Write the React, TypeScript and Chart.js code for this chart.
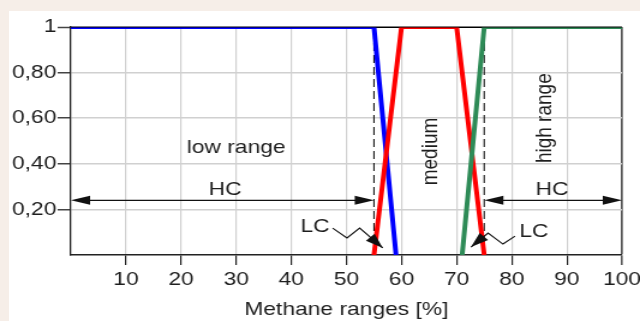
import React, { useEffect, useRef } from 'react';
import { Chart, registerables } from 'chart.js';

Chart.register(...registerables);

// ---- data ----
const lowRangeX = [0, 55, 59];
const lowRangeY = [1, 1, 0];
const mediumX = [55, 60, 70, 75];
const mediumY = [0, 1, 1, 0];
const highRangeX = [71, 75, 100];
const highRangeY = [0, 1, 1];
const boundaryX = [55, 75];

const xTickLabels = ['', '10', '20', '30', '40', '50', '60', '70', '80', '90', '100'];
const yTickLabels = ['', '0,20', '0,40', '0,60', '0,80', '1'];

// annotation texts (data coordinates)
const textLabels = [
  { text: 'low range', x: 30, y: 0.47, rot: 0 },
  { text: 'HC', x: 28, y: 0.285, rot: 0 },
  { text: 'HC', x: 87.3, y: 0.285, rot: 0 },
  { text: 'medium', x: 65.2, y: 0.454, rot: -90 },
  { text: 'high range', x: 86.1, y: 0.6, rot: -90 },
  { text: 'LC', x: 44.3, y: 0.123, rot: 0 },
  { text: 'LC', x: 84.0, y: 0.101, rot: 0 },
];
const hcArrowStart = [0, 75];
const hcArrowEnd = [55, 100];
const hcArrowY = 0.24;
const lcLeftX = [47.5, 50.1, 52.4, 56.6];
const lcLeftY = [0.118, 0.075, 0.118, 0.031];
const lcRightX = [80.6, 78.4, 75.7, 72.6];
const lcRightY = [0.083, 0.048, 0.096, 0.035];

const FONT = "'Liberation Sans', Arial, Helvetica, sans-serif";
const TEXT = '#1e1e1e';

function toPts(xs: number[], ys: number[]) {
  return xs.map((x, i) => ({ x, y: ys[i] }));
}

function arrowHead(ctx: CanvasRenderingContext2D, tx: number, ty: number, ang: number, len: number, hw: number) {
  ctx.save();
  ctx.translate(tx, ty);
  ctx.rotate(ang);
  ctx.beginPath();
  ctx.moveTo(0, 0);
  ctx.lineTo(-len, -hw);
  ctx.lineTo(-len, hw);
  ctx.closePath();
  ctx.fill();
  ctx.restore();
}

const annotationPlugin = {
  id: 'annotations',
  afterDatasetsDraw(chart: any) {
    const { ctx, chartArea, scales } = chart;
    const xs = scales.x;
    const ys = scales.y;
    ctx.save();
    // top frame line over the data
    ctx.strokeStyle = '#000';
    ctx.lineWidth = 1;
    ctx.beginPath();
    ctx.moveTo(chartArea.left, chartArea.top);
    ctx.lineTo(chartArea.right, chartArea.top);
    ctx.stroke();

    ctx.fillStyle = '#111';
    ctx.strokeStyle = '#111';
    // HC double arrows
    ctx.lineWidth = 1.3;
    for (let i = 0; i < hcArrowStart.length; i++) {
      const x0 = xs.getPixelForValue(hcArrowStart[i]);
      const x1 = xs.getPixelForValue(hcArrowEnd[i]);
      const y = ys.getPixelForValue(hcArrowY);
      ctx.beginPath();
      ctx.moveTo(x0 + 4, y);
      ctx.lineTo(x1 - 4, y);
      ctx.stroke();
      arrowHead(ctx, x0, y, Math.PI, 16, 4.5);
      arrowHead(ctx, x1, y, 0, 16, 4.5);
    }
    // LC zigzags
    ctx.lineWidth = 1.1;
    const paths = [toPts(lcLeftX, lcLeftY), toPts(lcRightX, lcRightY)];
    for (const p of paths) {
      const px = p.map((q) => ({ x: xs.getPixelForValue(q.x), y: ys.getPixelForValue(q.y) }));
      ctx.beginPath();
      px.forEach((q, i) => (i === 0 ? ctx.moveTo(q.x, q.y) : ctx.lineTo(q.x, q.y)));
      ctx.stroke();
      const a = px[px.length - 2];
      const b = px[px.length - 1];
      arrowHead(ctx, b.x, b.y, Math.atan2(b.y - a.y, b.x - a.x), 15, 5);
    }
    // texts
    ctx.fillStyle = TEXT;
    ctx.font = `19px ${FONT}`;
    ctx.textAlign = 'center';
    ctx.textBaseline = 'middle';
    for (const t of textLabels) {
      const px = xs.getPixelForValue(t.x);
      const py = ys.getPixelForValue(t.y);
      ctx.save();
      ctx.translate(px, py);
      if (t.rot) ctx.rotate((t.rot * Math.PI) / 180);
      ctx.fillText(t.text, 0, 0);
      ctx.restore();
    }
    ctx.restore();
  },
};

export default function App() {
  const ref = useRef<HTMLCanvasElement>(null);
  useEffect(() => {
    const canvas = ref.current!;
    const chart = new Chart(canvas, {
      type: 'line',
      data: {
        datasets: [
          {
            label: 'high range',
            data: toPts(highRangeX, highRangeY),
            borderColor: '#2e8b57',
            borderWidth: 4,
            pointRadius: 0,
            order: 1,
          },
          {
            label: 'medium',
            data: toPts(mediumX, mediumY),
            borderColor: '#ff0000',
            borderWidth: 4,
            pointRadius: 0,
            order: 2,
          },
          {
            label: 'low range',
            data: toPts(lowRangeX, lowRangeY),
            borderColor: '#0000ff',
            borderWidth: 4,
            pointRadius: 0,
            order: 3,
          },
          ...boundaryX.map((bx) => ({
            label: 'boundary',
            data: [
              { x: bx, y: 0 },
              { x: bx, y: 1 },
            ],
            borderColor: '#111',
            borderWidth: 1.1,
            borderDash: [8, 4],
            pointRadius: 0,
            order: 10,
          })),
        ],
      },
      options: {
        animation: false,
        responsive: false,
        maintainAspectRatio: false,
        layout: { padding: { top: 27, right: 15, left: 0, bottom: 0 } },
        plugins: { legend: { display: false }, tooltip: { enabled: false } },
        elements: { line: { tension: 0 } },
        scales: {
          x: {
            type: 'linear',
            min: 0,
            max: 100,
            afterFit: (s: any) => {
              s.height = 66;
              s.paddingRight = 0;
              s.paddingLeft = 0;
            },
            ticks: {
              stepSize: 10,
              autoSkip: false,
              maxRotation: 0,
              padding: 3,
              color: TEXT,
              font: { family: FONT, size: 19 },
              callback: (_v: any, i: number) => xTickLabels[i],
            },
            grid: {
              color: (c: any) =>
                c.tick && c.tick.value === 0 ? 'rgba(0,0,0,0)' : c.tick && c.tick.value === 100 ? '#555' : '#d0d0d0',
              lineWidth: (c: any) => (c.tick && c.tick.value === 100 ? 1.7 : 1.2),
              tickColor: (c: any) => (c.tick && c.tick.value === 0 ? 'rgba(0,0,0,0)' : '#222'),
              tickLength: 10,
              tickWidth: 1.2,
            },
            border: { color: '#222', width: 1.5 },
            title: {
              display: true,
              text: 'Methane ranges [%]',
              color: TEXT,
              font: { family: FONT, size: 19 },
              padding: { top: 2, bottom: 0 },
            },
          },
          y: {
            type: 'linear',
            min: 0,
            max: 1,
            afterFit: (s: any) => {
              s.width = 59;
            },
            ticks: {
              stepSize: 0.2,
              autoSkip: false,
              padding: 1,
              color: TEXT,
              font: { family: FONT, size: 19 },
              callback: (_v: any, i: number) => yTickLabels[i],
            },
            grid: {
              color: (c: any) =>
                c.tick && c.tick.value === 0 ? 'rgba(0,0,0,0)' : c.tick && c.tick.value === 1 ? '#000' : '#d0d0d0',
              lineWidth: (c: any) => (c.tick && c.tick.value === 1 ? 1 : 1.5),
              tickColor: (c: any) => (c.tick && c.tick.value === 0 ? 'rgba(0,0,0,0)' : '#444'),
              tickLength: 11,
              tickWidth: 1.5,
            },
            border: { color: '#222', width: 1.3 },
          },
        },
      },
      plugins: [annotationPlugin],
    } as any);
    return () => chart.destroy();
  }, []);

  return (
    <div
      style={{
        position: 'fixed',
        left: 0,
        top: 0,
        width: 640,
        height: 321,
        background: '#f6eee8',
        overflow: 'hidden',
      }}
    >
      <div style={{ position: 'absolute', left: 9, top: 11, right: 0, bottom: 0, background: '#ffffff' }} />
      <canvas
        ref={ref}
        width={533}
        height={321}
        style={{ position: 'absolute', left: 0, top: 0, width: '640px', height: '321px' }}
      />
    </div>
  );
}
